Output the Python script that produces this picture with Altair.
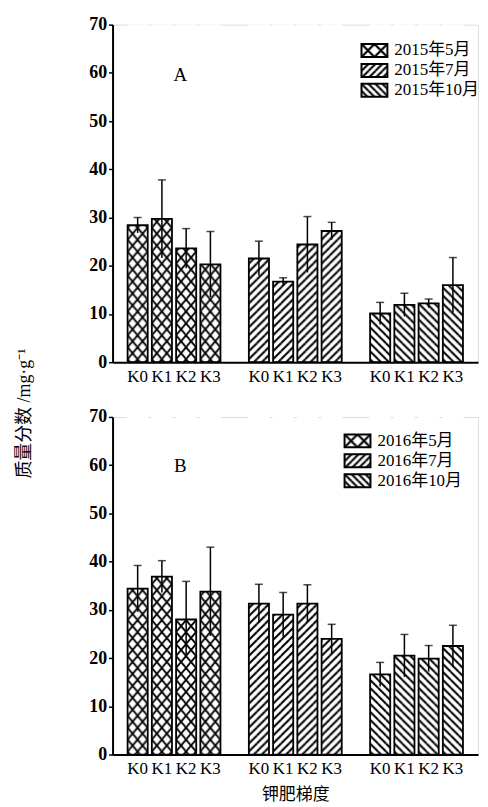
import base64
import altair as alt
import pandas as pd

# ---------------- data ----------------
levels = ["K0", "K1", "K2", "K3"]
months_A = ["2015年5月", "2015年7月", "2015年10月"]
months_B = ["2016年5月", "2016年7月", "2016年10月"]

a_may = [28.4, 29.7, 23.6, 20.3]
a_may_err = [1.6, 8.1, 4.1, 6.8]
a_jul = [21.5, 16.7, 24.4, 27.2]
a_jul_err = [3.6, 0.8, 5.8, 1.8]
a_oct = [10.1, 11.9, 12.2, 16.0]
a_oct_err = [2.3, 2.4, 0.9, 5.7]

b_may = [34.4, 36.9, 28.0, 33.8]
b_may_err = [4.8, 3.3, 7.9, 9.2]
b_jul = [31.3, 29.0, 31.3, 24.0]
b_jul_err = [4.0, 4.6, 3.9, 3.0]
b_oct = [16.6, 20.5, 19.9, 22.5]
b_oct_err = [2.5, 4.4, 2.7, 4.3]

y_ticks = [0, 10, 20, 30, 40, 50, 60, 70]

# ---------------- layout / style ----------------
FONT = "Liberation Serif, Noto Sans CJK SC"
W, H = 367, 339
GROUPS = ["a", "b", "c"]
domain = []
for gi, g in enumerate(GROUPS):
    domain += [f"{g}|{k}" for k in levels]
    if gi < len(GROUPS) - 1:
        domain.append(f"gap{gi}")
PI, PO = 0.17, 0.62
step = W / (len(domain) - PI + 2 * PO)
BW = step * (1 - PI)


def hatch_uri(kind, w, h, pw, ph, sw):
    segs = []
    if kind == "cross":
        base = [(0, 0, pw, ph), (pw, 0, 0, ph)]
    elif kind == "slash":
        base = [(0, ph, pw, 0)]
    else:
        base = [(0, 0, pw, ph)]
    for dx in (-pw, 0, pw):
        for dy in (-ph, 0, ph):
            for (x1, y1, x2, y2) in base:
                segs.append(
                    f'<line x1="{x1+dx}" y1="{y1+dy}" x2="{x2+dx}" y2="{y2+dy}" '
                    f'stroke="black" stroke-width="{sw}"/>'
                )
    svg = (
        f'<svg xmlns="http://www.w3.org/2000/svg" width="{w}" height="{h}" '
        f'viewBox="0 0 {w} {h}" preserveAspectRatio="none">'
        f'<defs><pattern id="p" patternUnits="userSpaceOnUse" width="{pw}" height="{ph}">'
        + "".join(segs)
        + f'</pattern></defs><rect width="{w}" height="{h}" fill="white"/>'
        f'<rect width="{w}" height="{h}" fill="url(#p)"/></svg>'
    )
    return "data:image/svg+xml;base64," + base64.b64encode(svg.encode()).decode()


kinds = [("cross", 10, 12, 1.8), ("slash", 8, 8, 2.0), ("back", 8, 8, 2.0)]
bar_uris = [hatch_uri(k, round(BW, 2), H, pw, ph, sw) for k, pw, ph, sw in kinds]
leg_kinds = [("cross", 13, 13, 2.2), ("slash", 7, 7, 2.0), ("back", 7, 7, 2.0)]
leg_uris = [hatch_uri(k, 26, 13, pw, ph, sw) for k, pw, ph, sw in leg_kinds]


def panel(series, months, letter, lx, ly, ytitle, xtitle):
    rows = []
    for gi, (vals, errs) in enumerate(series):
        for k, v, e in zip(levels, vals, errs):
            rows.append(dict(key=f"{GROUPS[gi]}|{k}", g=gi, month=months[gi],
                             mean=v, err=e, lo=v - e, hi=v + e))
    df = pd.DataFrame(rows)
    base = alt.Chart(df)

    x_axis = alt.Axis(
        labelExpr="indexof(datum.value, 'gap') >= 0 ? '' : split(datum.value, '|')[1]",
        ticks=False, labelAngle=0, labelPadding=6, labelFontSize=17,
        labelFont=FONT, labelColor="black", labelOverlap=False,
        domainColor="black", domainWidth=2, zindex=1,
        title=xtitle if xtitle else None,
        titleFont=FONT, titleFontSize=17, titleFontWeight="normal", titleColor="black",
        titleY=40, titleBaseline="middle",
    )
    x = alt.X("key:N", sort=domain,
              scale=alt.Scale(domain=domain, paddingInner=PI, paddingOuter=PO),
              axis=x_axis)
    y_axis = alt.Axis(
        values=y_ticks, grid=False, tickSize=4, tickWidth=1.5, tickColor="black",
        domainColor="black", domainWidth=2, labelFont=FONT, labelFontSize=18,
        labelFontWeight="bold", labelColor="black", labelPadding=2, zindex=1,
        title=ytitle if ytitle else None,
        titleFont=FONT, titleFontSize=18, titleFontWeight="normal", titleColor="black",
        titleAngle=270, titleX=-88, titleY=390, titleAlign="center", titleBaseline="middle",
    )
    yscale = alt.Scale(domain=[0, 70], nice=False, zero=True)

    imgs = [
        base.transform_filter(alt.datum.g == gi)
        .mark_image(url=bar_uris[gi], width=BW, height=H, aspect=False,
                    align="center", baseline="middle")
        .encode(x=x, y=alt.datum(35))
        for gi in range(3)
    ]
    cover = base.mark_bar(color="white", width=BW + 1).encode(
        x=x, y=alt.Y("mean:Q", scale=yscale, axis=y_axis), y2=alt.datum(70)
    )
    outline = base.mark_bar(fill="transparent", stroke="black", strokeWidth=1.8,
                            width=BW).encode(x=x, y="mean:Q")
    err_rule = base.mark_rule(color="black", strokeWidth=1.5).encode(
        x=x, y="lo:Q", y2="hi:Q")
    err_cap = base.mark_tick(color="black", thickness=1.5, size=8).encode(
        x=x, y="hi:Q")
    letter_txt = alt.Chart(pd.DataFrame({"t": [letter]})).mark_text(
        font=FONT, fontSize=19, color="black", align="center", baseline="middle"
    ).encode(x=alt.value(68), y=alt.value(ly + 25), text="t:N")

    leg = []
    for i, m in enumerate(months):
        cy = ly + 20 * i
        one = alt.Chart(pd.DataFrame({"label": [m]}))
        leg.append(one.mark_image(url=leg_uris[i], width=26, height=13, aspect=False,
                                  align="center", baseline="middle")
                   .encode(x=alt.value(lx + 13), y=alt.value(cy)))
        leg.append(one.mark_rect(fill="transparent", stroke="black", strokeWidth=2)
                   .encode(x=alt.value(lx), x2=alt.value(lx + 26),
                           y=alt.value(cy - 6.5), y2=alt.value(cy + 6.5)))
        leg.append(one.mark_text(font=FONT, fontSize=17, color="black", align="left",
                                 baseline="middle")
                   .encode(x=alt.value(lx + 33), y=alt.value(cy), text="label:N"))

    return alt.layer(*imgs, cover, outline, err_rule, err_cap, letter_txt, *leg).properties(
        width=W, height=H)


pA = panel([(a_may, a_may_err), (a_jul, a_jul_err), (a_oct, a_oct_err)], months_A,
           "A", 250, 26, "质量分数 /mg·g⁻¹", None)
pB = panel([(b_may, b_may_err), (b_jul, b_jul_err), (b_oct, b_oct_err)], months_B,
           "B", 233, 24, None, "钾肥梯度")

chart = alt.vconcat(pA, pB, spacing=55, bounds="flush").properties(
    padding={"left": 7, "top": 5, "right": 0, "bottom": 0},
).configure_view(stroke=None).configure(background="white")

chart.save("out.html", embed_options={"renderer": "svg", "actions": False})
